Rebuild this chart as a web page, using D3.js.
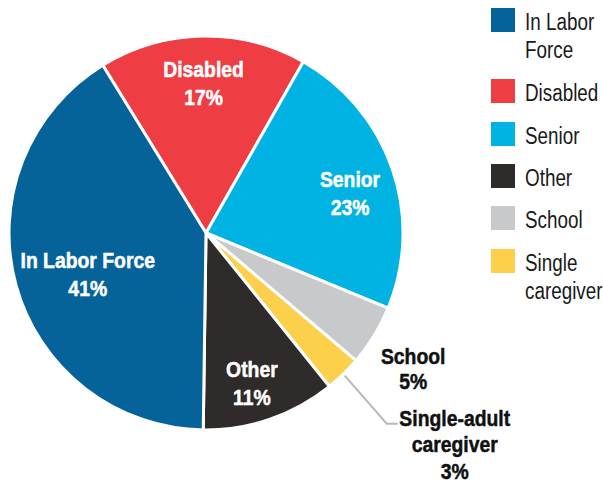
<!DOCTYPE html>
<html>
<head>
<meta charset="utf-8">
<script src="https://cdn.jsdelivr.net/npm/d3@7"></script>
<style>
  body { margin: 0; background: #fff; }
  svg text { font-family: "Liberation Sans", Arial, sans-serif; }
</style>
</head>
<body>
<div id="chart"></div>
<script>
// slice order follows the picture, clockwise from the top
const categories = ["Disabled", "Senior", "School", "Single-adult caregiver", "Other", "In Labor Force"];
const shares = [17, 23, 5, 3, 11, 41];
const legendLabels = [["In Labor", "Force"], ["Disabled"], ["Senior"], ["Other"], ["School"], ["Single", "caregiver"]];
const legendKeys = ["In Labor Force", "Disabled", "Senior", "Other", "School", "Single-adult caregiver"];

const colors = {
  "In Labor Force": "#05639a",
  "Disabled": "#ee3d43",
  "Senior": "#00b3e3",
  "Other": "#302b2b",
  "School": "#c8c9cb",
  "Single-adult caregiver": "#fdd04b"
};

const data = categories.map(function (c, i) {
  return { name: c, value: shares[i] };
});

const width = 603, height = 486;
const cx = 206, cy = 233, radius = 197;
const squeeze = 0.88; // no condensed font installed, so narrow the text by hand

const svg = d3.select("#chart").append("svg")
  .attr("width", width)
  .attr("height", height);

const g = svg.append("g").attr("transform", "translate(" + cx + "," + cy + ")");

const startDeg = -31.6;
const pie = d3.pie()
  .sort(null)
  .value(function (d) { return d.value; })
  .startAngle(startDeg * Math.PI / 180)
  .endAngle((startDeg + 360) * Math.PI / 180);

const arc = d3.arc().innerRadius(0).outerRadius(radius);
const arcs = pie(data);

g.selectAll(".slice")
  .data(arcs)
  .enter()
  .append("path")
  .attr("class", "slice")
  .attr("d", arc)
  .attr("fill", function (d) { return colors[d.data.name]; })
  .attr("stroke", "#fff")
  .attr("stroke-width", 3)
  .attr("stroke-linejoin", "round");

function polar(angle, r) {
  return [Math.sin(angle) * r, -Math.cos(angle) * r];
}

// multi-line text block, squeezed horizontally
function textBlock(parent, x, y, lines, opts) {
  const wrap = parent.append("g")
    .attr("transform", "translate(" + x + "," + y + ") scale(" + opts.sx + ",1)");
  const t = wrap.append("text")
    .attr("text-anchor", opts.anchor || "middle")
    .attr("fill", opts.fill)
    .attr("font-weight", opts.weight || "normal")
    .attr("font-size", opts.size);
  if (opts.weight === "bold") {
    // a thin outline makes it look closer to the heavy original face
    t.attr("stroke", opts.fill).attr("stroke-width", 0.5);
  }
  let yy = 0;
  lines.forEach(function (line, i) {
    t.append("tspan").attr("x", 0).attr("y", yy).text(line);
    yy += opts.gaps ? opts.gaps[i] || 0 : opts.lh;
  });
  return t;
}

// inside labels: angle tweak (deg) and radius for each
const inside = {
  "Disabled": { da: 0, r: 142, text: "Disabled" },
  "Senior": { da: 6.5, r: 147.5, text: "Senior" },
  "Other": { da: 2.8, r: 164.5, text: "Other" },
  "In Labor Force": { da: -7.1, r: 128, text: "In Labor Force" }
};

arcs.forEach(function (d) {
  const lab = inside[d.data.name];
  if (!lab) return;
  const mid = (d.startAngle + d.endAngle) / 2 + lab.da * Math.PI / 180;
  const p = polar(mid, lab.r);
  textBlock(g, p[0], p[1] - 14, [lab.text, d.data.value + "%"],
    { sx: squeeze, fill: "#fff", weight: "bold", size: 22, lh: 28 });
});

// outside labels
const school = arcs.find(function (d) { return d.data.name === "School"; });
const single = arcs.find(function (d) { return d.data.name === "Single-adult caregiver"; });

const sp = polar((school.startAngle + school.endAngle) / 2, radius);
textBlock(g, sp[0] + 39, sp[1] + 28, ["School", school.data.value + "%"],
  { sx: squeeze, fill: "#111", weight: "bold", size: 22, lh: 25 });

const p0 = polar((single.startAngle + single.endAngle) / 2, radius + 2);
const p1 = [p0[0] + 42, p0[1] + 48];
const p2 = [p1[0] + 11, p1[1]];
g.append("polyline")
  .attr("points", [p0, p1, p2].map(function (p) { return p.join(","); }).join(" "))
  .attr("fill", "none")
  .attr("stroke", "#b8b8b8")
  .attr("stroke-width", 2);

textBlock(g, p2[0] + 57, p2[1] + 2, ["Single-adult", "caregiver", single.data.value + "%"],
  { sx: squeeze, fill: "#111", weight: "bold", size: 22, gaps: [26, 27] });

// legend
const legend = svg.append("g").attr("transform", "translate(491,8)");
const rowY = [0, 71, 114, 156, 198, 241];

legendKeys.forEach(function (k, i) {
  const row = legend.append("g").attr("transform", "translate(0," + rowY[i] + ")");
  row.append("rect")
    .attr("width", 24)
    .attr("height", 24)
    .attr("fill", colors[k]);
  textBlock(row, 34, 22, legendLabels[i],
    { sx: 0.82, fill: "#1a1a1a", size: 23, lh: 28, anchor: "start" });
});
</script>
</body>
</html>
